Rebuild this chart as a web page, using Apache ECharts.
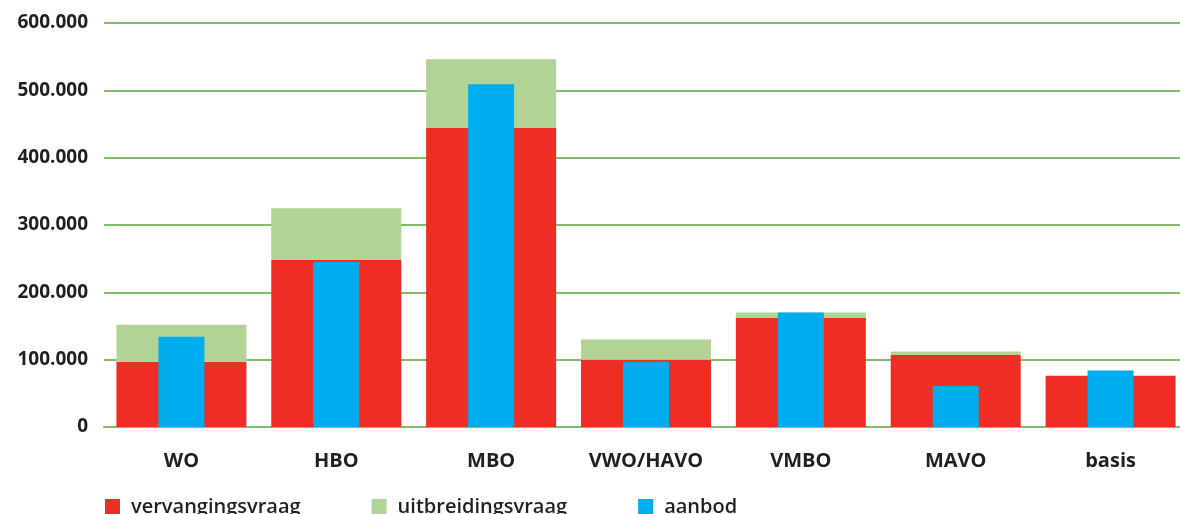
<!DOCTYPE html>
<html>
<head>
<meta charset="utf-8">
<style>
  html, body { margin: 0; padding: 0; background: #ffffff; overflow: hidden; }
  body { width: 1180px; height: 514px; }
  /* the plot area runs slightly past the right edge of the visible page */
  #chart { width: 1188px; height: 514px; }
</style>
<script src="https://cdn.jsdelivr.net/npm/echarts@6/dist/echarts.min.js"></script>
</head>
<body>
<div id="chart"></div>
<script>
// Opleidingsniveaus en aantallen
const categories = ['WO', 'HBO', 'MBO', 'VWO/HAVO', 'VMBO', 'MAVO', 'basis'];
const vervangingsvraag = [97000, 248000, 444000, 100000, 162000, 107000, 76000];
const uitbreidingsvraag = [55000, 77000, 102000, 30000, 8000, 5000, 0];
const aanbod = [134000, 245000, 509000, 97000, 170000, 61000, 84000];
const yTicks = [0, 100000, 200000, 300000, 400000, 500000, 600000];

const FONT = '"Open Sans", "Noto Sans", sans-serif';
const INK = '#231f20';
const GRID_GREEN = '#82be6a';

function formatThousands(v) {
  return String(Math.round(v)).replace(/\B(?=(\d{3})+(?!\d))/g, '.');
}

const chart = echarts.init(document.getElementById('chart'), null, { renderer: 'canvas' });

chart.setOption({
  animation: false,
  backgroundColor: '#ffffff',
  grid: { left: 104, right: 0, top: 23, bottom: 87, containLabel: false },
  legend: {
    data: ['vervangingsvraag', 'uitbreidingsvraag', 'aanbod'],
    left: 100,
    top: 492,
    itemWidth: 15,
    itemHeight: 16,
    itemGap: 71,
    icon: 'rect',
    textStyle: {
      fontFamily: FONT, fontSize: 20, fontWeight: 600, color: INK,
      padding: [0, 0, 0, 6]
    }
  },
  xAxis: [
    {
      type: 'category',
      data: categories,
      axisLine: { show: true, lineStyle: { color: GRID_GREEN, width: 2 } },
      axisTick: { show: false },
      axisLabel: {
        margin: 24,
        fontFamily: FONT, fontSize: 20, fontWeight: 700, color: INK
      }
    },
    {
      type: 'category',
      data: categories,
      show: false
    }
  ],
  yAxis: {
    type: 'value',
    min: yTicks[0],
    max: yTicks[yTicks.length - 1],
    interval: yTicks[1] - yTicks[0],
    axisLine: { show: false },
    axisTick: { show: false },
    splitLine: { show: true, lineStyle: { color: GRID_GREEN, width: 2 } },
    axisLabel: {
      margin: 16,
      fontFamily: FONT, fontSize: 19, fontWeight: 700, color: INK,
      formatter: formatThousands
    }
  },
  series: [
    {
      name: 'vervangingsvraag',
      type: 'bar',
      stack: 'vraag',
      xAxisIndex: 0,
      barWidth: 130,
      itemStyle: { color: '#ee2e24' },
      data: vervangingsvraag
    },
    {
      name: 'uitbreidingsvraag',
      type: 'bar',
      stack: 'vraag',
      xAxisIndex: 0,
      barWidth: 130,
      itemStyle: { color: '#b2d396' },
      data: uitbreidingsvraag
    },
    {
      name: 'aanbod',
      type: 'bar',
      xAxisIndex: 1,
      barWidth: 46,
      z: 3,
      itemStyle: { color: '#00aeef' },
      data: aanbod
    }
  ]
});
</script>
</body>
</html>
